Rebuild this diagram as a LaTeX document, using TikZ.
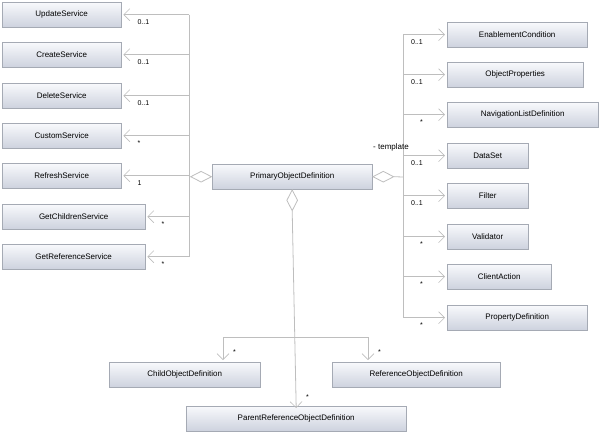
\documentclass[tikz,border=0pt]{standalone}
\usepackage{fontspec}
\setmainfont{Liberation Sans}
\usetikzlibrary{arrows.meta,shapes.geometric}
\definecolor{boxline}{RGB}{165,170,180}
\definecolor{boxtop}{RGB}{248,249,252}
\definecolor{boxbot}{RGB}{205,210,222}
\definecolor{wire}{RGB}{190,190,190}
\tikzset{
  cls/.style={draw=boxline,top color=boxtop,bottom color=boxbot,minimum height=25pt,
    inner sep=0pt,font=\fontsize{8}{9}\selectfont,anchor=north west},
  assoc/.style={draw=wire,line width=0.8pt,-{Straight Barb[length=6pt,width=12pt,line width=0.6pt]}},
  agg/.style={draw=wire,line width=0.8pt,fill=white,diamond,minimum width=21pt,minimum height=11pt,inner sep=0pt},
  aggv/.style={agg,minimum width=11pt,minimum height=21pt},
  mult/.style={font=\fontsize{7}{8}\selectfont,inner sep=0pt}
}
\begin{document}
\begin{tikzpicture}[x=1pt,y=-1pt]
\useasboundingbox (0,0) rectangle (599,432);
% classes
\node[cls,minimum width=160pt] (pod) at (212,164) {PrimaryObjectDefinition};
\foreach \nm/\txt/\yy/\ww in {us/UpdateService/2/119,cs/CreateService/42/119,ds/DeleteService/83/119,
  cus/CustomService/123/119,rs/RefreshService/163/119,gcs/GetChildrenService/204/143,grs/GetReferenceService/244/143}
  \node[cls,minimum width=\ww pt] (\nm) at (2,\yy) {\txt};
\foreach \nm/\txt/\yy/\ww in {ec/EnablementCondition/22/140,op/ObjectProperties/62/136,nl/NavigationListDefinition/102/151,
  dset/DataSet/143/81,fil/Filter/183/81,val/Validator/224/81,ca/ClientAction/264/104,pd/PropertyDefinition/305/140}
  \node[cls,minimum width=\ww pt] (\nm) at (447,\yy) {\txt};
\node[cls,minimum width=151pt] (cod) at (109,362) {ChildObjectDefinition};
\node[cls,minimum width=168pt] (rod) at (332,362) {ReferenceObjectDefinition};
\node[cls,minimum width=220pt] (prod) at (186,406) {ParentReferenceObjectDefinition};
% aggregation diamonds
\node[agg,anchor=east] (dl) at (pod.west) {};
\node[agg,anchor=west] (dr) at (pod.east) {};
\node[aggv,anchor=north] (db) at (pod.south) {};
\coordinate (lbus) at (189,177);
\coordinate (rbus) at (403,177);
\coordinate (bbus) at (296,337);
% left services
\draw[draw=wire,line width=0.8pt] (dl.west) -- (lbus);
\foreach \nm/\m in {us/0..1,cs/0..1,ds/0..1,cus/*,rs/1,gcs/*,grs/*}{
  \draw[assoc] (lbus |- \nm.east) -- ([xshift=2pt]\nm.east);
  \node[mult,anchor=north west] at ([xshift=16pt,yshift=-5pt]\nm.east) {\m};
}
\draw[draw=wire,line width=0.8pt] (lbus |- us.east) -- (lbus |- grs.east);
% right parts
\draw[draw=wire,line width=0.8pt] (dr.east) -- (rbus);
\foreach \nm/\m in {ec/0..1,op/0..1,nl/*,dset/0..1,fil/0..1,val/*,ca/*,pd/*}{
  \draw[assoc] (rbus |- \nm.west) -- ([xshift=-2pt]\nm.west);
  \node[mult,anchor=north east] at ([xshift=-24pt,yshift=-5pt]\nm.west) {\m};
}
\draw[draw=wire,line width=0.8pt] (rbus |- ec.west) -- (rbus |- pd.west);
\node[mult,font=\fontsize{8}{9}\selectfont,anchor=south west] (tpl) at (373,151) {- template};
% bottom children
\draw[assoc] (db.south) -- ([yshift=-2pt]prod.north);
\draw[draw=wire,line width=0.8pt] (223,337) -- (368,337);
\draw[assoc] (223,337) -- (223,360);
\draw[assoc] (368,337) -- (368,360);
\node[mult,anchor=west] at (233,352) {*};
\node[mult,anchor=west] at (378,352) {*};
\node[mult,anchor=west] at (306,397) {*};
\end{tikzpicture}
\end{document}
